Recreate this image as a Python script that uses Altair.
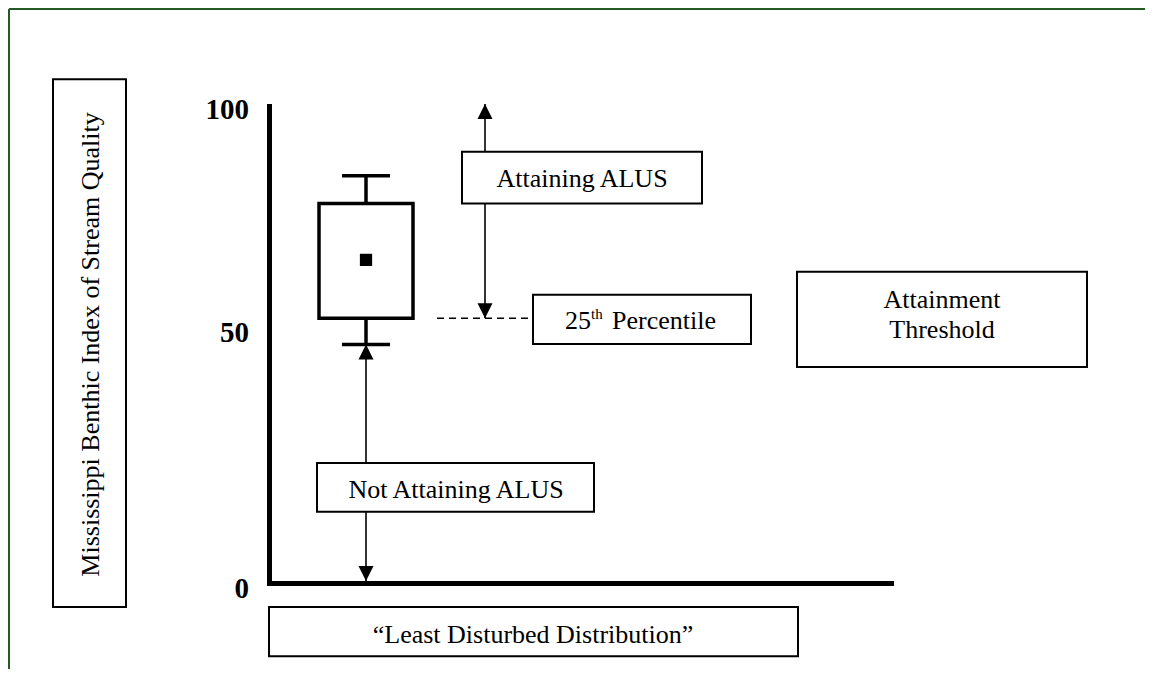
import altair as alt
import pandas as pd

# ---------------- data (y in index units, x in diagram units) ----------------
# box-plot summary of the "least disturbed" distribution
box_center_x = [366]
box_left_x = [319]
box_right_x = [413]
cap_left_x = [342]
cap_right_x = [390]
q1 = [55.5]
q3 = [79.5]
whisk_low = [50.0]
whisk_high = [85.3]
mean_val = [67.7]

# axis tick labels
tick_labels = ["100", "50", "0"]
tick_label_y = [97.2, 50.5, -3.0]

# annotation boxes
ann_names = ["ylab", "attaining", "pct", "threshold", "notatt", "least"]
ann_x0 = [53, 462, 533, 797, 317, 269]
ann_x1 = [126, 702, 751, 1087, 594, 798]
ann_y0 = [105.5, 90.3, 60.4, 65.2, 25.2, -4.9]
ann_y1 = [-4.9, 79.5, 50.1, 45.3, 15.0, -15.2]

# single-line texts inside boxes
txt = ["Attaining ALUS", "Not Attaining ALUS",
       "\u201cLeast Disturbed Distribution\u201d", "Attainment", "Threshold"]
txt_x = [582, 456, 533, 942, 942]
txt_y = [83.0, 17.9, -12.5, 57.6, 51.3]

# 25th percentile label pieces
pct_parts = ["25", "th", "Percentile"]
pct_x = [565, 591, 612]
pct_y = [53.2, 55.3, 53.2]
pct_size = [26, 15, 26]

# arrows (tips)
arrow_x = [485, 366]
arrow_top = [100.3, 50.0]
arrow_bottom = [55.5, 0.5]

ylab_text = ["Mississippi Benthic Index of Stream Quality"]

# ---------------- scales ----------------
W, H = 1137, 661
XS = alt.Scale(domain=[8, 1145], nice=False, zero=False)
YS = alt.Scale(domain=[-17.887, 120.397], nice=False, zero=False)
SERIF = "Liberation Serif"
GREEN = "#235a23"


def X(f):
    return alt.X(f, type="quantitative", scale=XS, axis=None)


def Y(f):
    return alt.Y(f, type="quantitative", scale=YS, axis=None)


# frame (left and top edges)
frame_df = pd.DataFrame({"x": [9, 9], "x2": [9, 1145], "y": [120.2, 120.2], "y2": [-17.887, 120.2]})
frame = alt.Chart(frame_df).mark_rule(color=GREEN, strokeWidth=2).encode(
    x=X("x"), x2="x2", y=Y("y"), y2="y2")

# axes lines
axes_df = pd.DataFrame({"x": [269.5, 267], "x2": [269.5, 894], "y": [100.3, 0.0], "y2": [-0.5, 0.0]})
axes = alt.Chart(axes_df).mark_rule(color="black", strokeWidth=5).encode(
    x=X("x"), x2="x2", y=Y("y"), y2="y2")

ticks_df = pd.DataFrame({"t": tick_labels, "y": tick_label_y, "x": [249] * 3})
ticks = alt.Chart(ticks_df).mark_text(font=SERIF, fontSize=29, fontWeight="bold",
                                       align="right", baseline="alphabetic", color="black").encode(
    x=X("x"), y=Y("y"), text="t:N")

# arrows
arr_df = pd.DataFrame({"x": arrow_x, "y": arrow_top, "y2": arrow_bottom})
arrow_lines = alt.Chart(arr_df).mark_rule(color="black", strokeWidth=1.6).encode(
    x=X("x"), y=Y("y"), y2="y2")
up_heads = alt.Chart(arr_df).mark_point(shape="M0,0L0.5,1L-0.5,1Z", size=900, filled=True,
                                         color="black", opacity=1).encode(x=X("x"), y=Y("y"))
dn_df = pd.DataFrame({"x": arrow_x, "y": arrow_bottom})
dn_heads = alt.Chart(dn_df).mark_point(shape="M0,0L0.5,-1L-0.5,-1Z", size=900, filled=True,
                                        color="black", opacity=1).encode(x=X("x"), y=Y("y"))

# dashed 25th percentile line
dash_df = pd.DataFrame({"x": [437], "x2": [533], "y": q1})
dash = alt.Chart(dash_df).mark_rule(color="black", strokeWidth=1.6, strokeDash=[7, 5]).encode(
    x=X("x"), x2="x2", y=Y("y"))

# box plot
bp = pd.DataFrame({"cx": box_center_x, "l": box_left_x, "r": box_right_x,
                   "cl": cap_left_x, "cr": cap_right_x,
                   "q1": q1, "q3": q3, "lo": whisk_low, "hi": whisk_high, "m": mean_val})
box = alt.Chart(bp).mark_rect(fill="white", stroke="black", strokeWidth=3.5).encode(
    x=X("l"), x2="r", y=Y("q1"), y2="q3")
wh_up = alt.Chart(bp).mark_rule(color="black", strokeWidth=3.5).encode(x=X("cx"), y=Y("q3"), y2="hi")
wh_dn = alt.Chart(bp).mark_rule(color="black", strokeWidth=3.5).encode(x=X("cx"), y=Y("q1"), y2="lo")
cap_up = alt.Chart(bp).mark_rule(color="black", strokeWidth=3.5).encode(x=X("cl"), x2="cr", y=Y("hi"))
cap_dn = alt.Chart(bp).mark_rule(color="black", strokeWidth=3.5).encode(x=X("cl"), x2="cr", y=Y("lo"))
mean_pt = alt.Chart(bp).mark_square(size=150, color="black", opacity=1).encode(x=X("cx"), y=Y("m"))

# annotation boxes
ann_df = pd.DataFrame({"n": ann_names, "x0": ann_x0, "x1": ann_x1, "y0": ann_y0, "y1": ann_y1})
ann = alt.Chart(ann_df).mark_rect(fill="white", stroke="black", strokeWidth=2).encode(
    x=X("x0"), x2="x1", y=Y("y0"), y2="y1")

txt_df = pd.DataFrame({"t": txt, "x": txt_x, "y": txt_y})
texts = alt.Chart(txt_df).mark_text(font=SERIF, fontSize=26, align="center",
                                     baseline="alphabetic", color="black").encode(
    x=X("x"), y=Y("y"), text="t:N")

pct_df = pd.DataFrame({"t": pct_parts, "x": pct_x, "y": pct_y, "s": pct_size})
pct = alt.Chart(pct_df).mark_text(font=SERIF, align="left", baseline="alphabetic",
                                   color="black").encode(
    x=X("x"), y=Y("y"), text="t:N",
    size=alt.Size("s:Q", scale=None, legend=None))

ylab_df = pd.DataFrame({"t": ylab_text, "x": [99], "y": [50.0]})
ylab = alt.Chart(ylab_df).mark_text(font=SERIF, fontSize=26, angle=270, align="center",
                                     baseline="alphabetic", color="black").encode(
    x=X("x"), y=Y("y"), text="t:N")

chart = alt.layer(
    frame, arrow_lines, dash, up_heads, dn_heads,
    ann, texts, pct, ylab,
    box, wh_up, wh_dn, cap_up, cap_dn, mean_pt,
    axes, ticks,
).properties(
    width=W, height=H, padding=0,
    autosize=alt.AutoSizeParams(type="none"),
    background="white",
).configure_view(stroke=None)

chart.save("out.html", embed_options={"renderer": "svg", "actions": False})
